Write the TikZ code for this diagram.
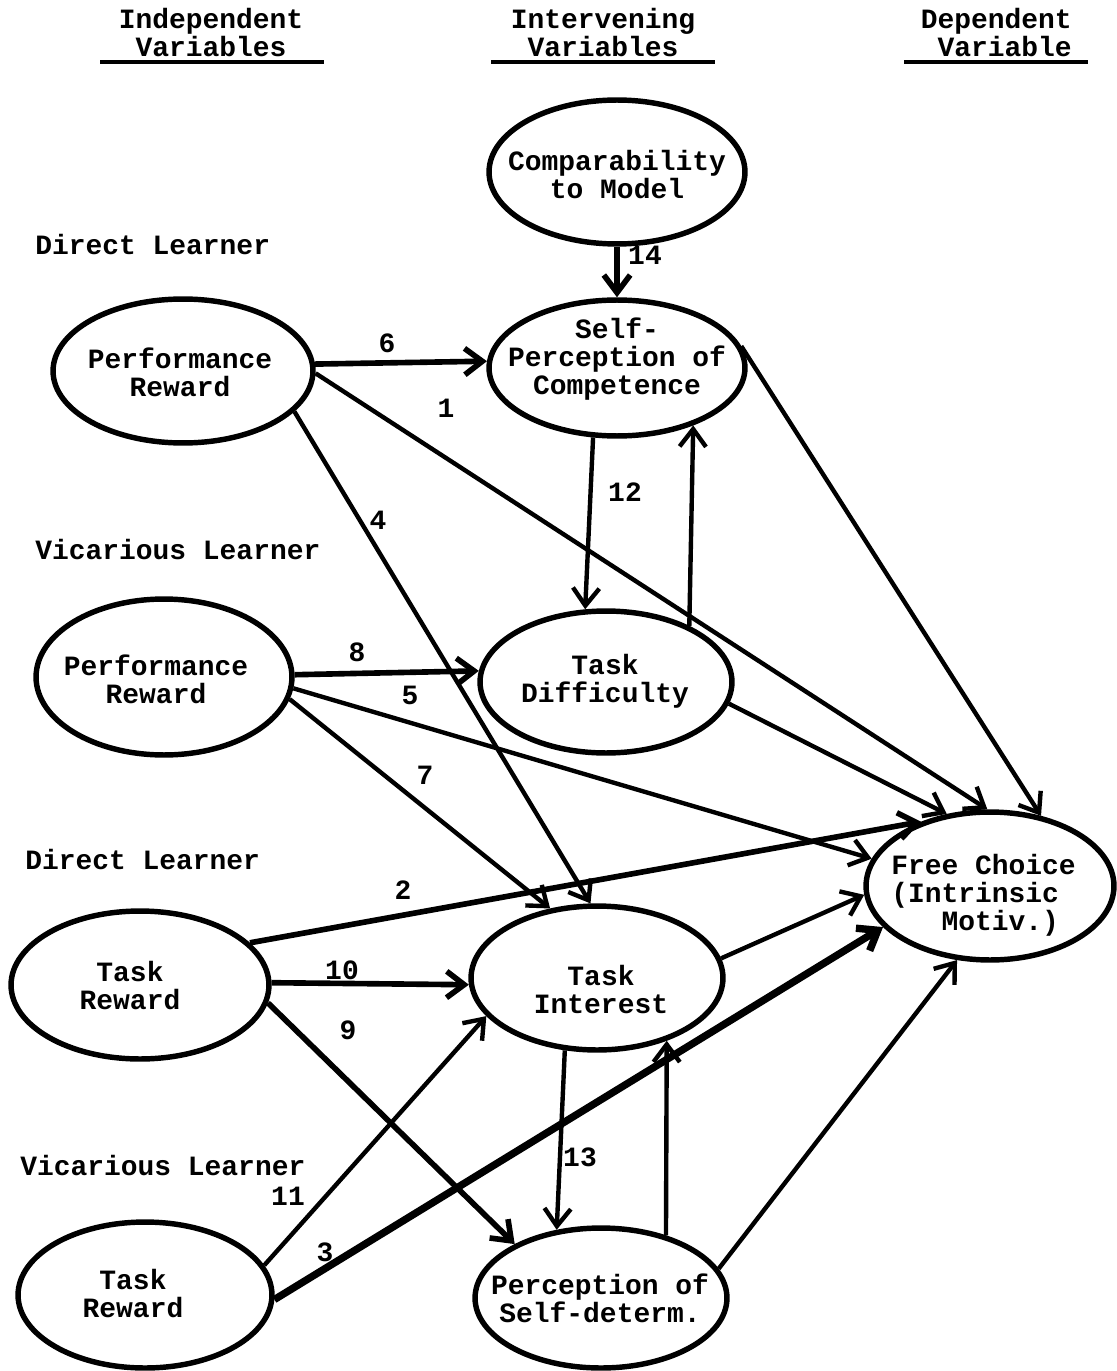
\documentclass[tikz,border=0pt]{standalone}
\usepackage{fontspec}
\setmainfont{Liberation Mono}
\usetikzlibrary{arrows.meta,shapes.geometric}
\newcommand{\diagfont}{\fontsize{15.9}{15.94}\selectfont\bfseries}
\begin{document}
\begin{tikzpicture}[x=0.02cm,y=-0.02cm,
  ell/.style 2 args={draw, ellipse, line width=3.1pt, inner sep=0pt, minimum width=#1*0.04cm, minimum height=#2*0.04cm},
  txt/.style={font=\diagfont, align=center, inner sep=0pt},
  num/.style={font=\diagfont, inner sep=0pt},
  con/.style={-{Straight Barb[length=10pt,width=15pt]}, line width=2.5pt},
  thk/.style={con, line width=3.2pt},
  vthk/.style={con, line width=4.2pt},
  rulel/.style={line width=2.6pt}]
\useasboundingbox (0,0) rectangle (1116,1371);

% headers
\node[txt] (H1) at (211,33) {Independent\\Variables};
\node[txt] (H2) at (603,33) {Intervening\\Variables};
\node[txt, align=right, anchor=east] (H3) at (1072,33) {Dependent\\Variable};
\draw[rulel] (100,62) -- (324,62);
\draw[rulel] (491,62) -- (715,62);
\draw[rulel] (904,62) -- (1088,62);

% group labels
\node[txt, anchor=west] (L1) at (35,245) {Direct Learner};
\node[txt, anchor=west] (L2) at (35,550) {Vicarious Learner};
\node[txt, anchor=west] (L3) at (25,860) {Direct Learner};
\node[txt, anchor=west] (L4) at (20,1166) {Vicarious Learner};

% ellipses
\node[ell={128}{72}] (CM) at (617,172) {};
\node[ell={128}{68}] (SP) at (617,368) {};
\node[ell={130}{72}] (PR1) at (183,371) {};
\node[ell={128}{78}] (PR2) at (164,677) {};
\node[ell={126}{71}] (TD) at (606,682) {};
\node[ell={129}{74}] (TR1) at (140,985) {};
\node[ell={126}{72}] (TI) at (597,978) {};
\node[ell={127}{73}] (TR2) at (145,1295) {};
\node[ell={126}{70}] (PSD) at (601,1298) {};
\node[ell={124}{74}] (FC) at (990,886) {};

% ellipse texts
\node[txt] (CMt) at (617,175) {Comparability\\to Model};
\node[txt] (SPt) at (617,359) {Self-\\Perception of\\Competence};
\node[txt] (PR1t) at (180,372) {Performance\\Reward};
\node[txt] (PR2t) at (156,679) {Performance\\Reward};
\node[txt] (TDt) at (605,681) {Task\\Difficulty};
\node[txt] (TR1t) at (130,986) {Task\\Reward};
\node[txt] (TIt) at (601,990) {Task\\Interest};
\node[txt] (TR2t) at (133,1293) {Task\\Reward};
\node[txt] (PSDt) at (600,1298) {Perception of\\Self-determ.};
\node[txt, align=left, anchor=west] (FCt) at (891,895) {Free Choice\\(Intrinsic\\\phantom{(In}Motiv.)};

% connectors
\draw[thk] (CM.south) -- (SP.north);
\draw[thk] (PR1.3.5) -- (SP.177.7);
\draw[con] (PR1.-1) -- (FC.92.3);
\draw[con] (PR1.-20.3) -- (TI.95.6);
\draw[con] (SP.251) -- (TD.106.7);
\draw[con] (TD.34.2) -- (SP.-37.2);
\draw[con] (SP.10.2) -- (FC.54);
\draw[thk] (PR2.1.8) -- (TD.175.9);
\draw[con] (PR2.-5.9) -- (FC.167.2);
\draw[con] (PR2.-10.8) -- (TI.124.6);
\draw[con] (TD.-10.1) -- (FC.121.6);
\draw[thk] (TR1.21.7) -- (FC.137);
\draw[thk] (TR1.1.3) -- (TI.183.2);
\draw[thk] (TR1.-8.9) -- (PSD.148.4);
\draw[con] (TI.9.2) -- (FC.184.9);
\draw[con] (TI.246.3) -- (PSD.123.3);
\draw[con] (PSD.44.5) -- (TI.-42.6);
\draw[con] (TR2.14.4) -- (TI.199.3);
\draw[vthk] (TR2.-2.3) -- (FC.201.3);
\draw[con] (PSD.14.5) -- (FC.246.5);

% connector numbers
\node[num] (n14) at (645,255) {14};
\node[num] (n6) at (387,343) {6};
\node[num] (n1) at (446,408) {1};
\node[num] (n4) at (378,520) {4};
\node[num] (n12) at (625,492) {12};
\node[num] (n8) at (357,652) {8};
\node[num] (n5) at (410,695) {5};
\node[num] (n7) at (425,775) {7};
\node[num] (n2) at (403,890) {2};
\node[num] (n10) at (342,970) {10};
\node[num] (n9) at (348,1030) {9};
\node[num] (n13) at (580,1157) {13};
\node[num] (n11) at (288,1196) {11};
\node[num] (n3) at (325,1252) {3};
\end{tikzpicture}
\end{document}
